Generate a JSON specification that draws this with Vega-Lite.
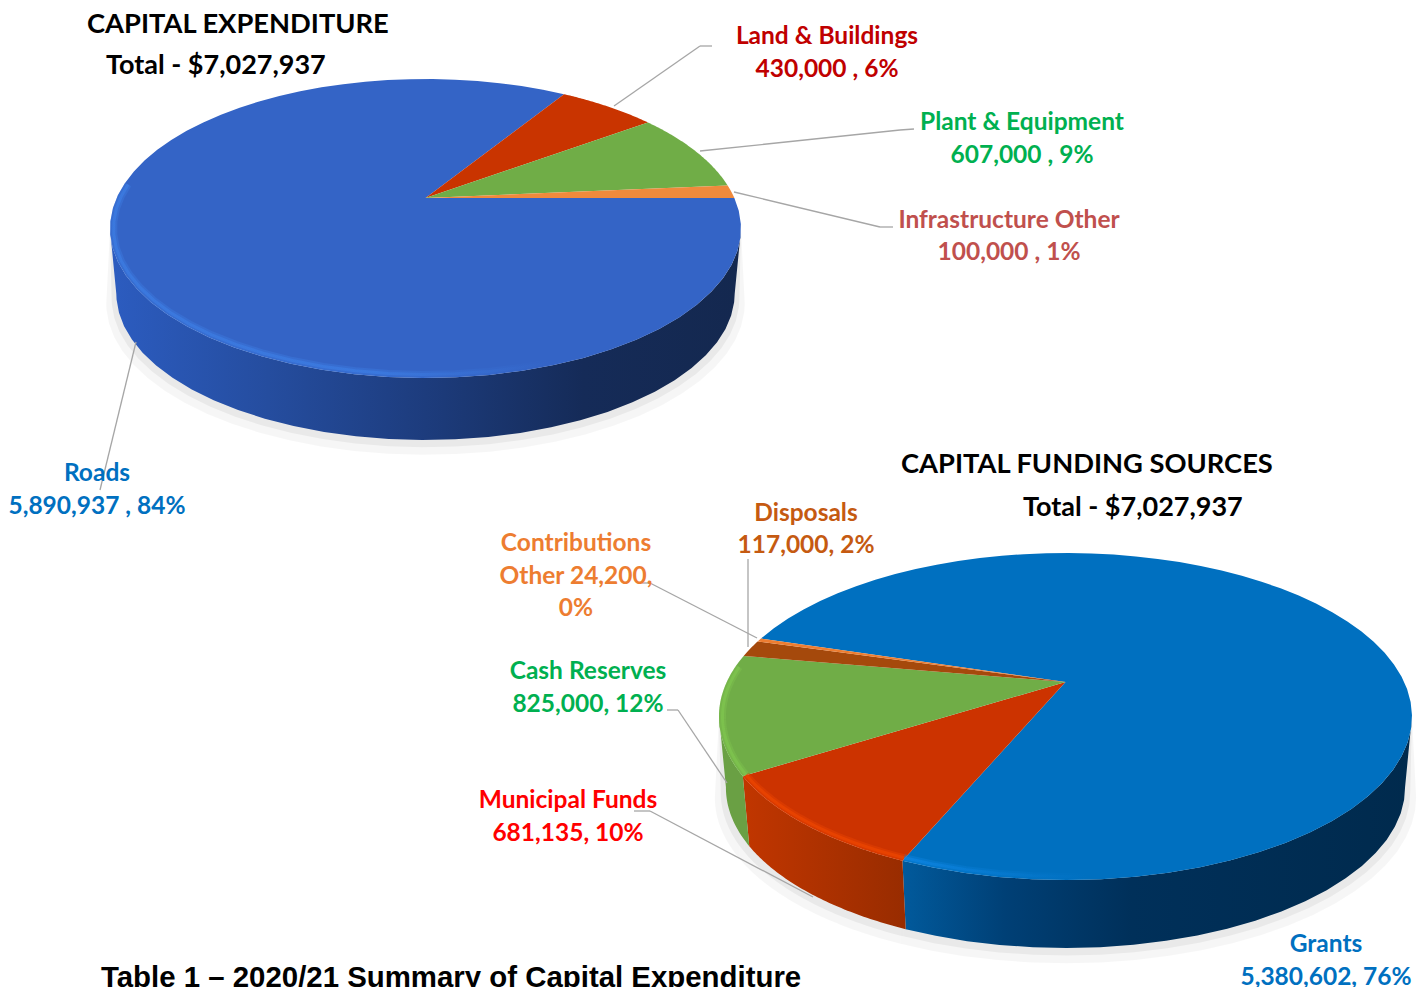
{
"$schema":"https://vega.github.io/schema/vega-lite/v6.json",
"width":1425,"height":987,"padding":0,
"autosize":"none",
"background":"white",
"config":{"view":{"stroke":null},"rule":{"stroke":"#a6a6a6","strokeWidth":1.3},"text":{"font":"Lato","fontWeight":"bold","fontSize":24.5,"lineHeight":33,"align":"center","baseline":"middle"}},
"data":{"values":[
{"chart":"expenditure","order":1,"category":"Roads","value":5890937,"label":["Roads","5,890,937 , 84%"]},
{"chart":"expenditure","order":2,"category":"Land & Buildings","value":430000,"label":["Land & Buildings","430,000 , 6%"]},
{"chart":"expenditure","order":3,"category":"Plant & Equipment","value":607000,"label":["Plant & Equipment","607,000 , 9%"]},
{"chart":"expenditure","order":4,"category":"Infrastructure Other","value":100000,"label":["Infrastructure Other","100,000 , 1%"]},
{"chart":"funding","order":1,"category":"Grants","value":5380602,"label":["Grants","5,380,602, 76%"]},
{"chart":"funding","order":2,"category":"Municipal Funds","value":681135,"label":["Municipal Funds","681,135, 10%"]},
{"chart":"funding","order":3,"category":"Cash Reserves","value":825000,"label":["Cash Reserves","825,000, 12%"]},
{"chart":"funding","order":4,"category":"Disposals","value":117000,"label":["Disposals","117,000, 2%"]},
{"chart":"funding","order":5,"category":"Contributions Other","value":24200,"label":["Contributions","Other 24,200,","0%"]}
]},
"layer":[
{"transform":[
{"window":[{"op":"sum","field":"value","as":"cum"}],"sort":[{"field":"order"}],"groupby":["chart"]},
{"joinaggregate":[{"op":"sum","field":"value","as":"total"}],"groupby":["chart"]},
{"calculate":"datum.chart=='expenditure'","as":"e"},
{"calculate":"(datum.e?0:-162.8)+360*datum.cum/datum.total","as":"a1"},
{"calculate":"datum.a1-360*datum.value/datum.total","as":"a0"},
{"calculate":"datum.e?425.5:1065.5","as":"cx"},
{"calculate":"datum.e?228.5:716.5","as":"cy"},
{"calculate":"datum.e?315.5:346.5","as":"rx"},
{"calculate":"datum.e?149.5:163.5","as":"ry"},
{"calculate":"datum.e?65:71.3","as":"d"},
{"calculate":"((datum.e?198:682)-datum.cy)/datum.ry","as":"v"},
{"calculate":"sqrt(1-datum.v*datum.v)","as":"q"},
{"calculate":"sequence(-1,122)","as":"steps"},
{"flatten":["steps"],"as":["i"]},
{"calculate":"datum.i<=60?max(datum.i,0)/60:(121-datum.i)/60","as":"t"},
{"calculate":"datum.a0+(datum.a1-datum.a0)*datum.t","as":"th"},
{"calculate":"sin(datum.th*PI/180)","as":"s"},
{"calculate":"datum.i<0?datum.cx:datum.cx+datum.rx*cos(datum.th*PI/180)*datum.q/(1+datum.v*datum.s)","as":"fx"},
{"calculate":"datum.i<0?datum.cy+datum.ry*datum.v:datum.cy+datum.ry*(datum.s+datum.v)/(1+datum.v*datum.s)","as":"fy"},
{"calculate":"max(12,min(168,datum.th))*PI/180","as":"tc"},
{"calculate":"cos(datum.tc)*datum.q/(1+datum.v*sin(datum.tc))","as":"ux"},
{"calculate":"(sin(datum.tc)+datum.v)/(1+datum.v*sin(datum.tc))","as":"uy"},
{"calculate":"datum.i<=60?datum.cx+datum.rx*datum.ux:datum.cx+datum.rx*0.98*datum.ux","as":"sx"},
{"calculate":"datum.i<=60?datum.cy+datum.ry*datum.uy:datum.cy+datum.d+datum.ry*0.98*datum.uy","as":"sy"},
{"calculate":"datum.i<=60?datum.cx+datum.rx*datum.ux:datum.cx+datum.rx*0.995*datum.ux","as":"s1x"},
{"calculate":"datum.i<=60?datum.cy+datum.ry*datum.uy:datum.cy+datum.d+5+datum.ry*0.995*datum.uy","as":"s1y"},
{"calculate":"datum.i<=60?datum.cx+datum.rx*datum.ux:datum.cx+datum.rx*1.012*datum.ux","as":"s2x"},
{"calculate":"datum.i<=60?datum.cy+datum.ry*datum.uy:datum.cy+datum.d+10+datum.ry*1.012*datum.uy","as":"s2y"},
{"calculate":"max(40,min(186,datum.th))*PI/180","as":"hc"},
{"calculate":"datum.cx+(datum.rx-3.5)*cos(datum.hc)*datum.q/(1+datum.v*sin(datum.hc))","as":"hx"},
{"calculate":"datum.cy+(datum.ry-3.5)*(sin(datum.hc)+datum.v)/(1+datum.v*sin(datum.hc))","as":"hy"}
],
"layer":[
{"transform":[{"filter":"datum.a0<168&&datum.a1>12&&datum.i>=0"}],
 "mark":{"type":"line","fill":"#000000","fillOpacity":0.035,"strokeWidth":0},
 "encoding":{"x":{"field":"s2x","type":"quantitative","axis":null,"scale":{"domain":[0,1425],"nice":false,"zero":false}},"y":{"field":"s2y","type":"quantitative","axis":null,"scale":{"domain":[0,987],"reverse":true,"nice":false,"zero":false}},"order":{"field":"i"},"detail":{"field":"category"}}},
{"transform":[{"filter":"datum.a0<168&&datum.a1>12&&datum.i>=0"}],
 "mark":{"type":"line","fill":"#000000","fillOpacity":0.05,"strokeWidth":0},
 "encoding":{"x":{"field":"s1x","type":"quantitative"},"y":{"field":"s1y","type":"quantitative"},"order":{"field":"i"},"detail":{"field":"category"}}},
{"transform":[{"filter":"datum.category=='Roads'&&datum.i>=0"}],
 "mark":{"type":"line","strokeWidth":0,"fill":{"gradient":"linear","x1":0,"x2":1,"y1":0,"y2":0,"stops":[{"offset":0,"color":"#2c5cc0"},{"offset":0.25,"color":"#254d9f"},{"offset":0.5,"color":"#1d3c7d"},{"offset":0.75,"color":"#152b58"},{"offset":1,"color":"#14284f"}]}},
 "encoding":{"x":{"field":"sx","type":"quantitative"},"y":{"field":"sy","type":"quantitative"},"order":{"field":"i"}}},
{"transform":[{"filter":"datum.category=='Grants'&&datum.i>=0"}],
 "mark":{"type":"line","strokeWidth":0,"fill":{"gradient":"linear","x1":0,"x2":1,"y1":0,"y2":0,"stops":[{"offset":0,"color":"#015a9c"},{"offset":0.2,"color":"#004076"},{"offset":0.45,"color":"#00305a"},{"offset":1,"color":"#002a4d"}]}},
 "encoding":{"x":{"field":"sx","type":"quantitative"},"y":{"field":"sy","type":"quantitative"},"order":{"field":"i"}}},
{"transform":[{"filter":"datum.category=='Municipal Funds'&&datum.i>=0"}],
 "mark":{"type":"line","strokeWidth":0,"fill":{"gradient":"linear","x1":0,"x2":1,"y1":0,"y2":0,"stops":[{"offset":0,"color":"#c13600"},{"offset":1,"color":"#982c00"}]}},
 "encoding":{"x":{"field":"sx","type":"quantitative"},"y":{"field":"sy","type":"quantitative"},"order":{"field":"i"}}},
{"transform":[{"filter":"datum.category=='Cash Reserves'&&datum.i>=0"}],
 "mark":{"type":"line","strokeWidth":0,"fill":"#6aa044"},
 "encoding":{"x":{"field":"sx","type":"quantitative"},"y":{"field":"sy","type":"quantitative"},"order":{"field":"i"}}},
{"transform":[{"filter":"datum.i<=60"}],
 "mark":{"type":"line","filled":true,"strokeWidth":0},
 "encoding":{"x":{"field":"fx","type":"quantitative"},"y":{"field":"fy","type":"quantitative"},"order":{"field":"i"},
 "color":{"field":"category","type":"nominal","legend":null,"scale":{"domain":["Roads","Land & Buildings","Plant & Equipment","Infrastructure Other","Grants","Municipal Funds","Cash Reserves","Disposals","Contributions Other"],"range":["#3464c6","#c93400","#70ad47","#f08a3c","#0070c0","#cc3300","#70ad47","#a5490c","#ed7d31"]}}}},
{"transform":[{"filter":"datum.category=='Roads'&&datum.i>=0&&datum.i<=60"}],
 "mark":{"type":"line","strokeWidth":7,"opacity":0.35,"stroke":{"gradient":"linear","x1":0,"x2":1,"y1":0,"y2":0,"stops":[{"offset":0,"color":"#3d7fe6"},{"offset":0.45,"color":"#3d7fe6"},{"offset":0.75,"color":"#3464c6"},{"offset":1,"color":"#3464c6"}]}},
 "encoding":{"x":{"field":"hx","type":"quantitative"},"y":{"field":"hy","type":"quantitative"},"order":{"field":"i"}}},
{"transform":[{"filter":"datum.category=='Roads'&&datum.i>=0&&datum.i<=60"}],
 "mark":{"type":"line","strokeWidth":3,"opacity":0.6,"stroke":{"gradient":"linear","x1":0,"x2":1,"y1":0,"y2":0,"stops":[{"offset":0,"color":"#3d7fe6"},{"offset":0.45,"color":"#3d7fe6"},{"offset":0.75,"color":"#3464c6"},{"offset":1,"color":"#3464c6"}]}},
 "encoding":{"x":{"field":"hx","type":"quantitative"},"y":{"field":"hy","type":"quantitative"},"order":{"field":"i"}}},
{"transform":[{"filter":"datum.category=='Grants'&&datum.i>=0&&datum.i<=60"}],
 "mark":{"type":"line","strokeWidth":7,"opacity":0.35,"stroke":{"gradient":"linear","x1":0,"x2":1,"y1":0,"y2":0,"stops":[{"offset":0,"color":"#1088e8"},{"offset":0.4,"color":"#0070c0"},{"offset":1,"color":"#0070c0"}]}},
 "encoding":{"x":{"field":"hx","type":"quantitative"},"y":{"field":"hy","type":"quantitative"},"order":{"field":"i"}}},
{"transform":[{"filter":"datum.category=='Grants'&&datum.i>=0&&datum.i<=60"}],
 "mark":{"type":"line","strokeWidth":3,"opacity":0.6,"stroke":{"gradient":"linear","x1":0,"x2":1,"y1":0,"y2":0,"stops":[{"offset":0,"color":"#1088e8"},{"offset":0.4,"color":"#0070c0"},{"offset":1,"color":"#0070c0"}]}},
 "encoding":{"x":{"field":"hx","type":"quantitative"},"y":{"field":"hy","type":"quantitative"},"order":{"field":"i"}}},
{"transform":[{"filter":"datum.category=='Municipal Funds'&&datum.i>=0&&datum.i<=60"}],
 "mark":{"type":"line","strokeWidth":7,"opacity":0.35,"stroke":"#f04800"},
 "encoding":{"x":{"field":"hx","type":"quantitative"},"y":{"field":"hy","type":"quantitative"},"order":{"field":"i"}}},
{"transform":[{"filter":"datum.category=='Municipal Funds'&&datum.i>=0&&datum.i<=60"}],
 "mark":{"type":"line","strokeWidth":3,"opacity":0.6,"stroke":"#f04800"},
 "encoding":{"x":{"field":"hx","type":"quantitative"},"y":{"field":"hy","type":"quantitative"},"order":{"field":"i"}}},
{"transform":[{"filter":"datum.category=='Cash Reserves'&&datum.i>=0&&datum.i<=60"}],
 "mark":{"type":"line","strokeWidth":7,"opacity":0.35,"stroke":"#80c850"},
 "encoding":{"x":{"field":"hx","type":"quantitative"},"y":{"field":"hy","type":"quantitative"},"order":{"field":"i"}}},
{"transform":[{"filter":"datum.category=='Cash Reserves'&&datum.i>=0&&datum.i<=60"}],
 "mark":{"type":"line","strokeWidth":3,"opacity":0.6,"stroke":"#80c850"},
 "encoding":{"x":{"field":"hx","type":"quantitative"},"y":{"field":"hy","type":"quantitative"},"order":{"field":"i"}}}
]},
{"transform":[{"filter":"datum.category=='Roads'"}],
 "layer":[
 {"mark":"rule","encoding":{"x":{"datum":614},"y":{"datum":106},"x2":{"datum":700},"y2":{"datum":46}}},
 {"mark":"rule","encoding":{"x":{"datum":700},"y":{"datum":46},"x2":{"datum":712},"y2":{"datum":46}}},
 {"mark":"rule","encoding":{"x":{"datum":700},"y":{"datum":151},"x2":{"datum":900},"y2":{"datum":130}}},
 {"mark":"rule","encoding":{"x":{"datum":900},"y":{"datum":130},"x2":{"datum":914},"y2":{"datum":129}}},
 {"mark":"rule","encoding":{"x":{"datum":734},"y":{"datum":192},"x2":{"datum":880},"y2":{"datum":227}}},
 {"mark":"rule","encoding":{"x":{"datum":880},"y":{"datum":227},"x2":{"datum":893},"y2":{"datum":227}}},
 {"mark":"rule","encoding":{"x":{"datum":136},"y":{"datum":342},"x2":{"datum":100},"y2":{"datum":490}}},
 {"mark":"rule","encoding":{"x":{"datum":642},"y":{"datum":583},"x2":{"datum":650},"y2":{"datum":583}}},
 {"mark":"rule","encoding":{"x":{"datum":650},"y":{"datum":583},"x2":{"datum":757},"y2":{"datum":638}}},
 {"mark":"rule","encoding":{"x":{"datum":748},"y":{"datum":559},"x2":{"datum":748},"y2":{"datum":647}}},
 {"mark":"rule","encoding":{"x":{"datum":667},"y":{"datum":710},"x2":{"datum":678},"y2":{"datum":710}}},
 {"mark":"rule","encoding":{"x":{"datum":678},"y":{"datum":710},"x2":{"datum":727},"y2":{"datum":783}}},
 {"mark":"rule","encoding":{"x":{"datum":634},"y":{"datum":811},"x2":{"datum":650},"y2":{"datum":811}}},
 {"mark":"rule","encoding":{"x":{"datum":650},"y":{"datum":811},"x2":{"datum":813},"y2":{"datum":897}}}
 ]},
{"transform":[{"filter":"datum.category=='Land & Buildings'"}],"mark":{"type":"text","color":"#c00000"},"encoding":{"x":{"datum":827},"y":{"datum":37},"text":{"field":"label"}}},
{"transform":[{"filter":"datum.category=='Plant & Equipment'"}],"mark":{"type":"text","color":"#00b050"},"encoding":{"x":{"datum":1022},"y":{"datum":123},"text":{"field":"label"}}},
{"transform":[{"filter":"datum.category=='Infrastructure Other'"}],"mark":{"type":"text","lineHeight":32,"color":"#c0504d"},"encoding":{"x":{"datum":1009},"y":{"datum":221},"text":{"field":"label"}}},
{"transform":[{"filter":"datum.category=='Roads'"}],"mark":{"type":"text","color":"#0070c0"},"encoding":{"x":{"datum":97},"y":{"datum":474},"text":{"field":"label"}}},
{"transform":[{"filter":"datum.category=='Disposals'"}],"mark":{"type":"text","lineHeight":32,"color":"#c55a11"},"encoding":{"x":{"datum":806},"y":{"datum":514},"text":{"field":"label"}}},
{"transform":[{"filter":"datum.category=='Contributions Other'"}],"mark":{"type":"text","lineHeight":32.5,"color":"#ed7d31"},"encoding":{"x":{"datum":576},"y":{"datum":544},"text":{"field":"label"}}},
{"transform":[{"filter":"datum.category=='Cash Reserves'"}],"mark":{"type":"text","color":"#00b050"},"encoding":{"x":{"datum":588},"y":{"datum":672},"text":{"field":"label"}}},
{"transform":[{"filter":"datum.category=='Municipal Funds'"}],"mark":{"type":"text","color":"#ff0000"},"encoding":{"x":{"datum":568},"y":{"datum":801},"text":{"field":"label"}}},
{"transform":[{"filter":"datum.category=='Grants'"}],"mark":{"type":"text","color":"#0070c0"},"encoding":{"x":{"datum":1326},"y":{"datum":945},"text":{"field":"label"}}},
{"transform":[{"filter":"datum.category=='Roads'"}],"mark":{"type":"text","fontSize":27.3,"color":"#000000","align":"left"},"encoding":{"x":{"datum":87},"y":{"datum":24.5},"text":{"value":"CAPITAL EXPENDITURE"}}},
{"transform":[{"filter":"datum.category=='Roads'"}],"mark":{"type":"text","fontSize":27,"color":"#000000","align":"left"},"encoding":{"x":{"datum":106},"y":{"datum":66},"text":{"value":"Total - $7,027,937"}}},
{"transform":[{"filter":"datum.category=='Roads'"}],"mark":{"type":"text","fontSize":27.3,"color":"#000000","align":"left"},"encoding":{"x":{"datum":901},"y":{"datum":464.5},"text":{"value":"CAPITAL FUNDING SOURCES"}}},
{"transform":[{"filter":"datum.category=='Roads'"}],"mark":{"type":"text","fontSize":27,"color":"#000000","align":"left"},"encoding":{"x":{"datum":1023},"y":{"datum":508},"text":{"value":"Total - $7,027,937"}}},
{"transform":[{"filter":"datum.category=='Roads'"}],"mark":{"type":"text","font":"Liberation Sans","fontSize":29.4,"color":"#000000","align":"left","baseline":"alphabetic"},"encoding":{"x":{"datum":101},"y":{"datum":987},"text":{"value":"Table 1 – 2020/21 Summary of Capital Expenditure"}}}
]}
